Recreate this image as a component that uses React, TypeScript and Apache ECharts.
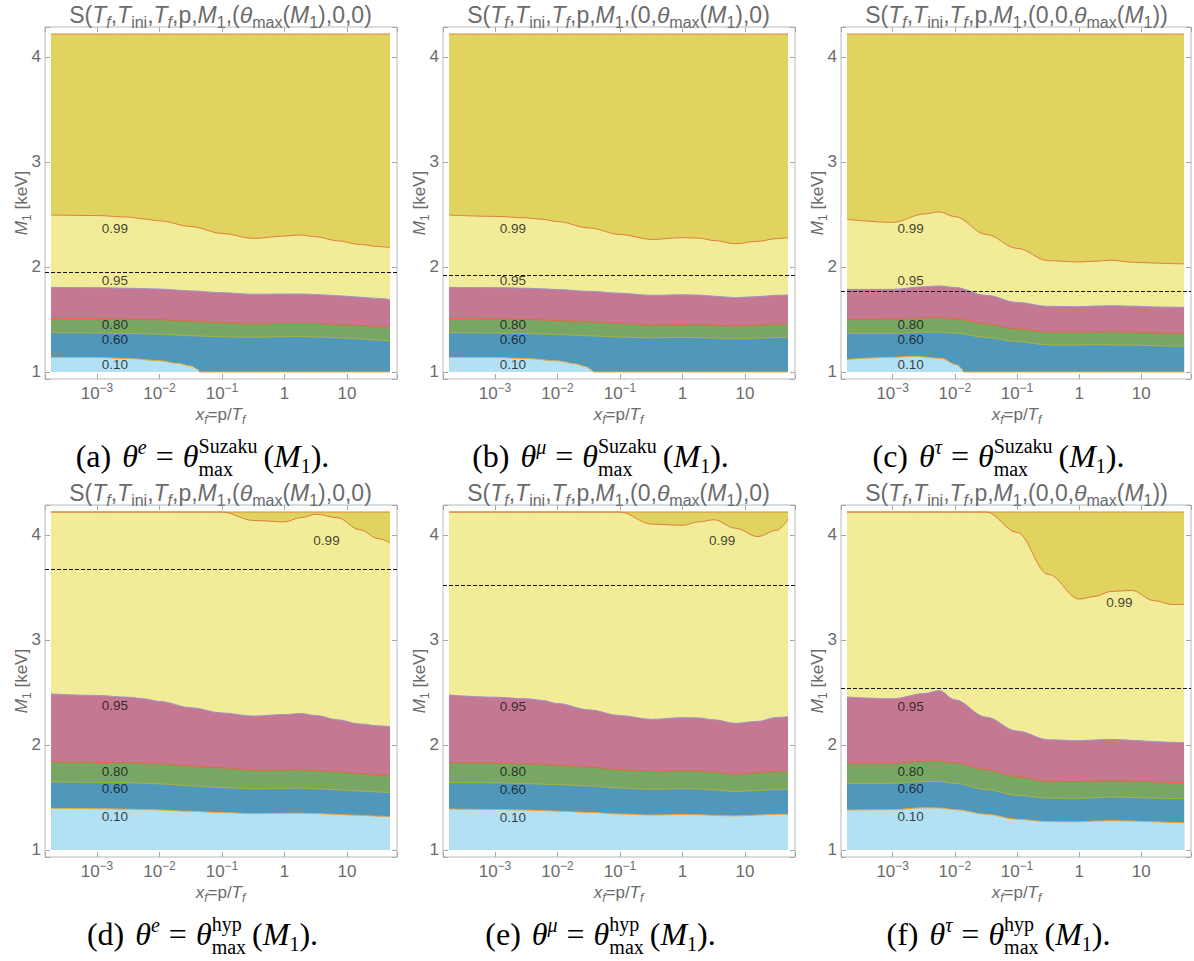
import React, { useEffect, useRef } from "react";
import * as echarts from "echarts";

// shared x sample grid (x_f = p/T_f)
const XG = [1.84e-4, 1e-3, 3.2e-3, 5.6e-3, 1e-2, 3.2e-2, 0.1, 0.32, 1, 1.8, 3.2, 7, 16, 32, 48.8];
const M_TOP = 4.219;

// panel (a)
const A99 = [2.495, 2.49, 2.475, 2.458, 2.44, 2.385, 2.32, 2.272, 2.295, 2.305, 2.288, 2.25, 2.215, 2.195, 2.185];
const A95 = [1.806, 1.803, 1.798, 1.794, 1.79, 1.772, 1.755, 1.74, 1.742, 1.743, 1.738, 1.727, 1.713, 1.7, 1.69];
const A80 = [1.51, 1.508, 1.503, 1.5, 1.497, 1.485, 1.47, 1.458, 1.462, 1.463, 1.46, 1.452, 1.443, 1.435, 1.43];
const A60 = [1.375, 1.372, 1.367, 1.364, 1.36, 1.345, 1.335, 1.33, 1.336, 1.337, 1.333, 1.326, 1.315, 1.303, 1.295];
const A10X = [1.84e-4, 1e-3, 3.2e-3, 1e-2, 1.9e-2, 3.2e-2, 4.1e-2, 4.4e-2, 48.8];
const A10 = [1.14, 1.138, 1.128, 1.108, 1.083, 1.057, 1.025, 1.0, 1.0];
// panel (b)
const B99 = [2.495, 2.482, 2.468, 2.455, 2.433, 2.372, 2.31, 2.262, 2.28, 2.275, 2.252, 2.222, 2.245, 2.27, 2.28];
const B95 = [1.806, 1.803, 1.798, 1.792, 1.785, 1.768, 1.75, 1.73, 1.735, 1.733, 1.722, 1.708, 1.718, 1.73, 1.733];
const B80 = [1.51, 1.507, 1.5, 1.496, 1.49, 1.478, 1.463, 1.447, 1.452, 1.45, 1.445, 1.437, 1.448, 1.455, 1.457];
const B60 = [1.375, 1.372, 1.366, 1.362, 1.357, 1.345, 1.333, 1.325, 1.33, 1.328, 1.322, 1.314, 1.322, 1.328, 1.33];
const B10X = [1.84e-4, 1e-3, 3.2e-3, 1e-2, 1.9e-2, 2.9e-2, 3.5e-2, 3.8e-2, 48.8];
const B10 = [1.14, 1.138, 1.128, 1.106, 1.078, 1.05, 1.02, 1.0, 1.0];
// panel (c)
const C99 = [2.454, 2.425, 2.505, 2.525, 2.48, 2.31, 2.178, 2.06, 2.048, 2.055, 2.065, 2.046, 2.038, 2.032, 2.03];
const C95 = [1.787, 1.787, 1.812, 1.82, 1.805, 1.73, 1.663, 1.625, 1.622, 1.628, 1.632, 1.627, 1.62, 1.617, 1.616];
const C80 = [1.5, 1.503, 1.515, 1.517, 1.507, 1.457, 1.41, 1.38, 1.378, 1.381, 1.383, 1.378, 1.372, 1.369, 1.368];
const C60 = [1.368, 1.368, 1.38, 1.38, 1.37, 1.33, 1.29, 1.258, 1.257, 1.26, 1.258, 1.257, 1.25, 1.246, 1.244];
const C10X = [1.84e-4, 1e-3, 2.2e-3, 5.9e-3, 1.1e-2, 1.3e-2, 1.38e-2, 48.8];
const C10 = [1.12, 1.14, 1.15, 1.13, 1.067, 1.03, 1.0, 1.0];
// panel (d)
const D99 = [4.219, 4.219, 4.219, 4.219, 4.219, 4.219, 4.219, 4.138, 4.125, 4.165, 4.198, 4.165, 4.05, 3.965, 3.924];
const D95 = [2.486, 2.472, 2.455, 2.44, 2.415, 2.355, 2.305, 2.275, 2.29, 2.3, 2.28, 2.24, 2.2, 2.182, 2.175];
const D80 = [1.838, 1.835, 1.83, 1.826, 1.82, 1.8, 1.782, 1.76, 1.762, 1.764, 1.758, 1.745, 1.728, 1.716, 1.71];
const D60 = [1.648, 1.645, 1.64, 1.636, 1.63, 1.61, 1.594, 1.584, 1.587, 1.588, 1.584, 1.574, 1.562, 1.552, 1.546];
const D10 = [1.397, 1.394, 1.389, 1.385, 1.381, 1.368, 1.356, 1.346, 1.35, 1.351, 1.347, 1.338, 1.33, 1.322, 1.317];
// panel (e)
const E99 = [4.219, 4.219, 4.219, 4.219, 4.219, 4.219, 4.219, 4.104, 4.092, 4.125, 4.145, 4.065, 3.985, 4.045, 4.15];
const E95 = [2.476, 2.455, 2.44, 2.425, 2.395, 2.335, 2.28, 2.244, 2.26, 2.258, 2.24, 2.206, 2.225, 2.262, 2.27];
const E80 = [1.832, 1.828, 1.82, 1.815, 1.808, 1.79, 1.765, 1.746, 1.755, 1.752, 1.74, 1.72, 1.735, 1.748, 1.749];
const E60 = [1.644, 1.64, 1.632, 1.628, 1.623, 1.61, 1.59, 1.578, 1.584, 1.582, 1.572, 1.556, 1.568, 1.577, 1.578];
const E10 = [1.39, 1.386, 1.38, 1.375, 1.37, 1.358, 1.343, 1.333, 1.338, 1.336, 1.33, 1.324, 1.333, 1.34, 1.34];
// panel (f)
const F99 = [4.219, 4.219, 4.219, 4.219, 4.219, 4.219, 4.025, 3.625, 3.39, 3.415, 3.462, 3.472, 3.375, 3.338, 3.34];
const F95 = [2.457, 2.44, 2.49, 2.518, 2.43, 2.265, 2.133, 2.05, 2.04, 2.048, 2.054, 2.045, 2.032, 2.025, 2.022];
const F80 = [1.822, 1.822, 1.845, 1.845, 1.828, 1.765, 1.698, 1.653, 1.65, 1.655, 1.66, 1.655, 1.648, 1.643, 1.641];
const F60 = [1.632, 1.635, 1.652, 1.652, 1.635, 1.577, 1.52, 1.494, 1.492, 1.498, 1.505, 1.5, 1.494, 1.49, 1.489];
const F10 = [1.381, 1.384, 1.402, 1.4, 1.385, 1.34, 1.292, 1.27, 1.268, 1.275, 1.279, 1.276, 1.268, 1.262, 1.26];

// dashed reference lines (M1 in keV)
const DASHED = [1.946, 1.917, 1.771, 3.667, 3.522, 2.543];

// contour labels
const LEVEL_NAMES = ["0.99", "0.95", "0.80", "0.60", "0.10"];
const LABEL_X = 1.94e-3;
const LABEL99_X = [1.94e-3, 1.94e-3, 1.94e-3, 4.7, 4.3, 4.45];
const LA = [2.368, 1.876, 1.45, 1.309, 1.067];
const LB = [2.368, 1.87, 1.45, 1.309, 1.067];
const LC = [2.368, 1.87, 1.45, 1.309, 1.067];
const LD = [3.95, 2.374, 1.752, 1.584, 1.317];
const LE = [3.945, 2.365, 1.746, 1.578, 1.311];
const LF = [3.36, 2.37, 1.752, 1.584, 1.317];

const CAP_LETTERS = ["a", "b", "c", "d", "e", "f"];
const CAP_FLAVOURS = ["e", "μ", "τ", "e", "μ", "τ"];
const CAP_SOURCES = ["Suzaku", "Suzaku", "Suzaku", "hyp", "hyp", "hyp"];

const X_MIN = 1.472e-4;
const X_MAX = 63.1;
const Y_MIN = 0.9333;
const Y_MAX = 4.2857;

const SANS = "'Liberation Sans', Arial, sans-serif";
const SERIF = "'Liberation Serif', 'Times New Roman', serif";
const GRAY = "#6b6b6b";

const FILL = { dy: "#e0d35f", ly: "#f2eb97", pk: "#c57891", gr: "#78a765", bl: "#5098bb", lb: "#b1e1f3" };
const EDGE = { top: "#dc843c", e99: "#dc7f3c", e95: "#9b93c9", e80: "#e46a3a", e60: "#aeb23c", e10: "#eba63e" };

type Tok = {
  t?: string;
  s?: number;
  it?: boolean;
  dy?: number;
  gap?: number;
  stack?: { top: string; bot: string; dyTop: number; dyBot: number };
};

let mctx: CanvasRenderingContext2D | null = null;
function measure(t: string, size: number, family: string, italic?: boolean) {
  if (!mctx) mctx = document.createElement("canvas").getContext("2d");
  mctx!.font = `${italic ? "italic " : ""}${size}px ${family}`;
  return mctx!.measureText(t).width;
}

function composite(tokens: Tok[], cx: number, base: number, family: string, color: string, rotation = 0) {
  const parts: any[] = [];
  let x = 0;
  const place = (t: string, s: number, it: boolean | undefined, dx: number, dy: number) => {
    parts.push({
      type: "text",
      x: dx,
      y: dy - 0.345 * s,
      silent: true,
      style: {
        text: t,
        fontSize: s,
        fontFamily: family,
        fontStyle: it ? "italic" : "normal",
        fill: color,
        textAlign: "left",
        textVerticalAlign: "middle",
      },
    });
  };
  for (const tk of tokens) {
    if (tk.gap) {
      x += tk.gap;
    } else if (tk.stack) {
      const s = tk.s || 12;
      const w1 = measure(tk.stack.top, s, family, tk.it);
      const w2 = measure(tk.stack.bot, s, family, tk.it);
      place(tk.stack.top, s, tk.it, x, tk.stack.dyTop);
      place(tk.stack.bot, s, tk.it, x, tk.stack.dyBot);
      x += Math.max(w1, w2);
    } else {
      const t = tk.t || "";
      const s = tk.s || 12;
      place(t, s, tk.it, x, tk.dy || 0);
      x += measure(t, s, family, tk.it);
    }
  }
  const W = x;
  parts.forEach((p) => (p.x -= W / 2));
  return { type: "group", x: cx, y: base, rotation, silent: true, children: parts };
}

function titleTokens(which: number): Tok[] {
  const B = 23, S = 16, D = 5;
  const head: Tok[] = [
    { t: "S(", s: B },
    { t: "T", s: B, it: true },
    { t: "f", s: S, it: true, dy: D },
    { t: ",", s: B },
    { t: "T", s: B, it: true },
    { t: "ini", s: S, dy: D },
    { t: ",", s: B },
    { t: "T", s: B, it: true },
    { t: "f", s: S, it: true, dy: D },
    { t: ",p,", s: B },
    { t: "M", s: B, it: true },
    { t: "1", s: S, dy: D },
    { t: ",(", s: B },
  ];
  const th: Tok[] = [
    { t: "θ", s: B, it: true },
    { t: "max", s: S, dy: D },
    { t: "(", s: B },
    { t: "M", s: B, it: true },
    { t: "1", s: S, dy: D },
    { t: ")", s: B },
  ];
  if (which === 0) return [...head, ...th, { t: ",0,0)", s: B }];
  if (which === 1) return [...head, { t: "0,", s: B }, ...th, { t: ",0)", s: B }];
  return [...head, { t: "0,0,", s: B }, ...th, { t: ")", s: B }];
}

function captionTokens(p: number): Tok[] {
  const B = 32, S = 20;
  return [
    { t: `(${CAP_LETTERS[p]})`, s: B },
    { gap: 11 },
    { t: "θ", s: B, it: true },
    { t: CAP_FLAVOURS[p], s: S, it: true, dy: -13 },
    { gap: 9 },
    { t: "=", s: B },
    { gap: 9 },
    { t: "θ", s: B, it: true },
    { s: S, stack: { top: CAP_SOURCES[p], bot: "max", dyTop: -14, dyBot: 9 } },
    { gap: 6 },
    { t: "(", s: B },
    { t: "M", s: B, it: true },
    { t: "1", s: S, dy: 6 },
    { t: ").", s: B },
  ];
}

const X_NAME: Tok[] = [
  { t: "x", s: 17, it: true },
  { t: "f", s: 12, it: true, dy: 4 },
  { t: "=p/", s: 17 },
  { t: "T", s: 17, it: true },
  { t: "f", s: 12, it: true, dy: 4 },
];
const Y_NAME: Tok[] = [
  { t: "M", s: 17, it: true },
  { t: "1", s: 12, dy: 4 },
  { t: " [keV]", s: 17 },
];

function buildOption() {
  const panels = [
    { b99: A99, b95: A95, b80: A80, b60: A60, x10: A10X, b10: A10, lab: LA },
    { b99: B99, b95: B95, b80: B80, b60: B60, x10: B10X, b10: B10, lab: LB },
    { b99: C99, b95: C95, b80: C80, b60: C60, x10: C10X, b10: C10, lab: LC },
    { b99: D99, b95: D95, b80: D80, b60: D60, x10: XG, b10: D10, lab: LD },
    { b99: E99, b95: E95, b80: E80, b60: E60, x10: XG, b10: E10, lab: LE },
    { b99: F99, b95: F95, b80: F80, b60: F60, x10: XG, b10: F10, lab: LF },
  ];
  const grid: any[] = [];
  const xAxis: any[] = [];
  const yAxis: any[] = [];
  const series: any[] = [];
  const graphic: any[] = [];

  const xFmt = (v: number) => {
    const lg = Math.log10(v);
    const e = Math.round(lg);
    if (Math.abs(lg - e) > 1e-6) return "";
    if (e < 0) return "10{s|−" + -e + "}";
    return String(Math.round(Math.pow(10, e)));
  };
  const yFmt = (v: number) => (Math.abs(v - Math.round(v)) > 1e-6 ? "" : String(Math.round(v)));

  panels.forEach((P, p) => {
    const col = p % 3;
    const row = Math.floor(p / 3);
    const ox = 398 * col;
    const oy = 478 * row;
    grid.push({
      left: 45 + ox,
      top: 27 + oy,
      width: 352,
      height: 352,
      show: true,
      borderColor: "#b8b8b8",
      borderWidth: 1,
      backgroundColor: "transparent",
    });
    const tick = { show: true, inside: true, length: 5, lineStyle: { color: "#a8a8a8", width: 1 } };
    const xBase = {
      type: "log",
      logBase: 10,
      gridIndex: p,
      min: X_MIN,
      max: X_MAX,
      axisLine: { show: false },
      splitLine: { show: false },
      axisTick: tick,
    };
    xAxis.push({
      ...xBase,
      position: "bottom",
      axisLabel: {
        show: true,
        formatter: xFmt,
        fontSize: 17,
        fontFamily: SANS,
        color: GRAY,
        margin: 3,
        lineHeight: 22,
        rich: { s: { fontSize: 12, lineHeight: 12, verticalAlign: "top", color: GRAY, fontFamily: SANS } },
      },
    });
    xAxis.push({ ...xBase, position: "top", axisLabel: { show: false } });
    const yBase = {
      type: "value",
      gridIndex: p,
      min: Y_MIN,
      max: Y_MAX,
      splitNumber: 3,
      axisLine: { show: false },
      splitLine: { show: false },
      axisTick: tick,
    };
    yAxis.push({
      ...yBase,
      position: "left",
      axisLabel: { show: true, formatter: yFmt, fontSize: 17, fontFamily: SANS, color: GRAY, margin: 4 },
    });
    yAxis.push({ ...yBase, position: "right", axisLabel: { show: false } });

    const area = (xs: number[], ys: number[], fill: string, stroke: string) => ({
      type: "line",
      xAxisIndex: 2 * p,
      yAxisIndex: 2 * p,
      data: xs.map((x, i) => [x, ys[i]]),
      smooth: 0.35,
      smoothMonotone: "x",
      symbol: "none",
      showSymbol: false,
      silent: true,
      lineStyle: { color: stroke, width: 1 },
      areaStyle: { color: fill, opacity: 1, origin: 1 },
      z: 2,
    });
    const first = XG[0];
    const last = XG[XG.length - 1];
    series.push(area([first, last], [M_TOP, M_TOP], FILL.dy, EDGE.top));
    series.push(area(XG, P.b99, FILL.ly, EDGE.e99));
    series.push(area(XG, P.b95, FILL.pk, EDGE.e95));
    series.push(area(XG, P.b80, FILL.gr, EDGE.e80));
    series.push(area(XG, P.b60, FILL.bl, EDGE.e60));
    series.push(area(P.x10, P.b10, FILL.lb, EDGE.e10));

    series.push({
      type: "scatter",
      xAxisIndex: 2 * p,
      yAxisIndex: 2 * p,
      silent: true,
      symbolSize: 1,
      itemStyle: { color: "transparent" },
      data: LEVEL_NAMES.map((n, i) => ({ name: n, value: [i === 0 ? LABEL99_X[p] : LABEL_X, P.lab[i]] })),
      label: {
        show: true,
        position: "inside",
        formatter: "{b}",
        fontSize: 13.5,
        lineHeight: 13,
        fontFamily: SANS,
        color: "#111",
      },
      markLine: {
        silent: true,
        symbol: ["none", "none"],
        label: { show: false },
        lineStyle: { type: [4, 2], color: "#111", width: 1 },
        data: [{ yAxis: DASHED[p] }],
      },
      z: 5,
    });

    graphic.push(composite(titleTokens(col), 220.5 + ox, 22.7 + oy, SANS, GRAY));
    graphic.push(composite(captionTokens(p), 202.5 + ox, 467 + oy, SERIF, "#000"));
    graphic.push(composite(X_NAME, 220.5 + ox, 420 + oy, SANS, GRAY));
    graphic.push(composite(Y_NAME, 27 + ox, 203 + oy, SANS, GRAY, Math.PI / 2));
  });

  return { animation: false, backgroundColor: "#fff", grid, xAxis, yAxis, series, graphic };
}

export default function App() {
  const ref = useRef<HTMLDivElement>(null);
  useEffect(() => {
    const chart = echarts.init(ref.current!, null, { renderer: "svg", width: 1194, height: 961 });
    chart.setOption(buildOption() as any);
    return () => chart.dispose();
  }, []);
  return (
    <div
      ref={ref}
      style={{ position: "absolute", left: 0, top: 0, width: 1194, height: 961, background: "#fff" }}
    />
  );
}
